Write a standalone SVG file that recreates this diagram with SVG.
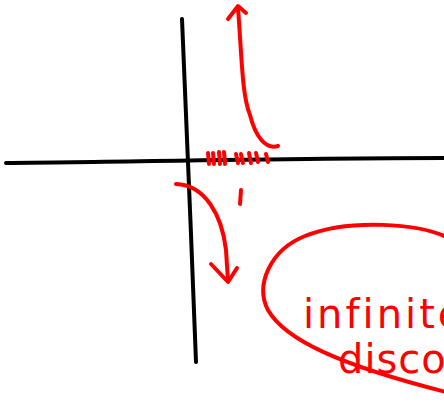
<svg xmlns="http://www.w3.org/2000/svg" width="444" height="405" viewBox="0 0 444 405">
<style>
.ax{fill:none;stroke:#000;stroke-width:4;stroke-linecap:round;stroke-linejoin:round}
.rd{fill:none;stroke:#f00;stroke-width:4;stroke-linecap:round;stroke-linejoin:round}
.tk{fill:none;stroke:#f00;stroke-width:4;stroke-linecap:round}
.hw{fill:#f00;font-family:"DejaVu Sans",sans-serif;font-size:40px;font-weight:normal}
</style>
<rect width="444" height="405" fill="#fff"/>
<g id="axes">
<path class="ax" d="M6,163 C120,162 300,158 444,158"/>
<path class="ax" d="M182,19 C186,120 192,250 196,362"/>
</g>
<g id="ticks">
<path class="tk" d="M208,153 L209,164 M213,153 L214,164 M219,152 L220,164 M224,152 L225,164 M236,154 L238,163 M241,154 L243,163 M249,153 L251,163 M256,153 L258,162 M266,154 L268,162"/>
<path class="tk" d="M241,190 L240,204"/>
</g>
<g id="connectors">
<path class="rd" d="M278,146 C265,150 255,135 250,115 C242,95 242,60 238,8"/>
<path class="rd" d="M228,19 L238,6 L246,13"/>
<path class="rd" d="M176,184 C205,185 222,215 226,250 L228,281"/>
<path class="rd" d="M211,264 L228,282 L237,268"/>
</g>
<g id="note">
<path class="rd" d="M446,237 C420,224 350,218 305,236 C270,250 255,285 268,310 C285,340 340,365 446,392"/>
<text class="hw" x="303" y="328" letter-spacing="3">infinite</text>
<text class="hw" x="338" y="373" letter-spacing="1">discou</text>
</g>
</svg>
